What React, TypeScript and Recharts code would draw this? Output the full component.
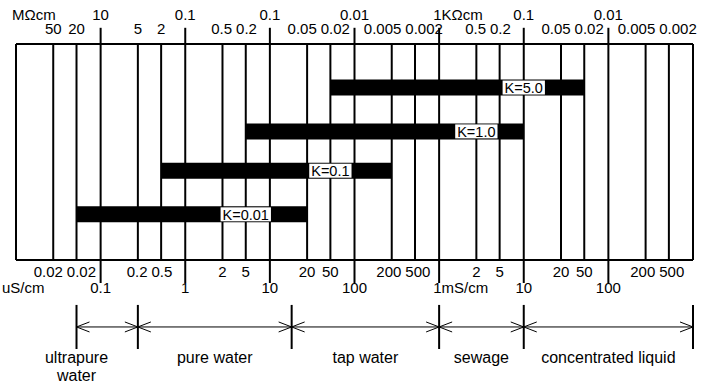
import { ComposedChart, Bar, XAxis, YAxis, ReferenceLine, LabelList } from 'recharts'

const FONT = '"Liberation Sans", Arial, Helvetica, sans-serif'
const WIDTH = 704
const HEIGHT = 386
const BOX_LEFT = 16
const BOX_RIGHT = 693
const AXIS_FONT = 15

// conductivity grid, all values in uS/cm
const GRID_VALUES = [
  0.01, 0.02, 0.05, 0.1, 0.2, 0.5, 1, 2, 5, 10, 20, 50, 100, 200, 500,
  1000, 2000, 5000, 10000, 20000, 50000, 100000, 200000, 500000, 1000000,
]
const DECADE_VALUES = [0.1, 1, 10, 100, 1000, 10000, 100000]
const DOMAIN_FROM = 0.01
const DOMAIN_TO = 1000000

// the chart is a schematic: inside each decade the 2 and 5 lines sit here
const STEP_MANTISSA = [1, 2, 5, 10]
const STEP_OFFSET = [0, 0.44, 0.715, 1]

// top scale (resistivity)
const TOP_UNIT = 'MΩcm'
const TOP_MAJOR_TEXT = ['10', '0.1', '0.1', '0.01', '1KΩcm', '0.1', '0.01']
const MINOR_AT = [
  0.02, 0.05, 0.2, 0.5, 2, 5, 20, 50, 200, 500, 2000, 5000, 20000, 50000, 200000, 500000,
]
const TOP_MINOR_TEXT = [
  '50', '20', '5', '2', '0.5', '0.2', '0.05', '0.02', '0.005', '0.002',
  '0.5', '0.2', '0.05', '0.02', '0.005', '0.002',
]

// bottom scale (conductivity)
const BOTTOM_UNIT = 'uS/cm'
const BOTTOM_MAJOR_TEXT = ['0.1', '1', '10', '100', '1mS/cm', '10', '100']
const BOTTOM_MINOR_TEXT = [
  '0.02', '0.02', '0.2', '0.5', '2', '5', '20', '50', '200', '500',
  '2', '5', '20', '50', '200', '500',
]

// cell constants
const K_LABELS = ['K=5.0', 'K=1.0', 'K=0.1', 'K=0.01']
const K_ROWS = [2, 4.03, 5.85, 7.87]
const K_FROM = [50, 5, 0.5, 0.05]
const K_TO = [50000, 10000, 200, 20]
const K_LABEL_AT = [10000, 2000, 50, 5]

// rows span 0..10 inside the box; the decade ticks and the ranges sit outside it
const TOP_TICK_SPAN = [-0.75, 0]
const RANGE_EDGES = [0.05, 0.2, 15, 1000, 10000, 1000000]
const RANGE_NAMES = [['ultrapure', 'water'], ['pure water'], ['tap water'], ['sewage'], ['concentrated liquid']]
const RANGE_LABEL_AT = [0.05, null, null, null, null]
const RANGE_ROW = 13.1
const RANGE_EDGE_SPAN = [12.08, 14.12]

const pos = (v: number) => {
  const d = Math.floor(Math.log10(v) + 1e-9)
  const m = v / Math.pow(10, d)
  for (let i = 0; i < STEP_MANTISSA.length - 1; i++) {
    const a = STEP_MANTISSA[i]
    const b = STEP_MANTISSA[i + 1]
    if (m >= a - 1e-9 && m <= b + 1e-9) {
      const f = Math.log(m / a) / Math.log(b / a)
      return d + STEP_OFFSET[i] + f * (STEP_OFFSET[i + 1] - STEP_OFFSET[i])
    }
  }
  return d
}

const DOMAIN: [number, number] = [pos(DOMAIN_FROM), pos(DOMAIN_TO)]
const PX_PER_UNIT = (BOX_RIGHT - BOX_LEFT) / (DOMAIN[1] - DOMAIN[0])

const CHAR_W: Record<string, number> = { '.': 0.278, '=': 0.584, K: 0.667 }
const textWidth = (s: string, size: number) =>
  s.split('').reduce((w, c) => w + (CHAR_W[c] ?? 0.556), 0) * size

type TickSpec = {
  v: number
  text: string
  outer: boolean
  major: boolean
  anchor: 'start' | 'middle' | 'end'
  dx: number
}

const buildTicks = (unit: string, unitDx: number, majorText: string[], minorText: string[]) => {
  const specs: TickSpec[] = [
    { v: pos(DOMAIN_FROM), text: unit, outer: true, major: false, anchor: 'start', dx: unitDx },
  ]
  DECADE_VALUES.forEach((at, i) => {
    const text = majorText[i]
    const isUnit = /[a-zA-Z]/.test(text)
    specs.push({ v: pos(at), text, outer: true, major: true, anchor: isUnit ? 'start' : 'middle', dx: isUnit ? -6 : 0 })
  })
  for (let i = 0; i < MINOR_AT.length; i += 2) {
    const a = pos(MINOR_AT[i])
    const b = pos(MINOR_AT[i + 1])
    const need = (textWidth(minorText[i], AXIS_FONT) + textWidth(minorText[i + 1], AXIS_FONT)) / 2 + 4
    const gap = (b - a) * PX_PER_UNIT
    const shift = need > gap ? (need - gap) / 2 : 0
    specs.push({ v: a, text: minorText[i], outer: false, major: false, anchor: 'middle', dx: -shift })
    specs.push({ v: b, text: minorText[i + 1], outer: false, major: false, anchor: 'middle', dx: shift })
  }
  return specs
}

const topTicks = buildTicks(TOP_UNIT, -4, TOP_MAJOR_TEXT, TOP_MINOR_TEXT)
const bottomTicks = buildTicks(BOTTOM_UNIT, -14, BOTTOM_MAJOR_TEXT, BOTTOM_MINOR_TEXT)

const makeTick = (specs: TickSpec[], side: 'top' | 'bottom') => (props: any) => {
  const { x, y, index } = props
  const s = specs[index]
  if (!s) return <g />
  const dir = side === 'top' ? -1 : 1
  const base = side === 'top' ? (s.outer ? 24 : 10.5) : s.outer ? 33 : 17
  return (
    <g>
      {side === 'bottom' && s.major && <line x1={x} x2={x} y1={y} y2={y + 23} stroke="#000" strokeWidth={2} />}
      <text x={x + s.dx} y={y + dir * base} textAnchor={s.anchor} fontSize={AXIS_FONT} fontFamily={FONT} fill="#000">
        {s.text}
      </text>
    </g>
  )
}

const barData = K_LABELS.map((label, i) => ({
  label,
  row: K_ROWS[i],
  range: [pos(K_FROM[i]), pos(K_TO[i])],
}))

const renderKLabel = (props: any) => {
  const { viewBox, index } = props
  const { x, y, width, height } = viewBox
  const from = pos(K_FROM[index])
  const to = pos(K_TO[index])
  const cx = x + (width * (pos(K_LABEL_AT[index]) - from)) / (to - from)
  const cy = y + height / 2
  const text = K_LABELS[index]
  const w = textWidth(text, 14.5) + 4
  return (
    <g>
      <rect x={cx - w / 2} y={cy - 7} width={w} height={14} fill="#fff" />
      <text x={cx} y={cy} dy="0.36em" textAnchor="middle" fontSize={14.5} fontFamily={FONT} fill="#000">
        {text}
      </text>
    </g>
  )
}

const makeArrow = (names: string[], labelX: number | null) => (props: any) => {
  const { x1, y1, x2 } = props
  const lx = labelX ?? (x1 + x2) / 2
  const head = 13
  const half = 5
  return (
    <g>
      <line x1={x1} y1={y1} x2={x2} y2={y1} stroke="#000" strokeWidth={1} />
      <polyline points={`${x1 + head},${y1 - half} ${x1},${y1} ${x1 + head},${y1 + half}`} fill="none" stroke="#000" strokeWidth={1} />
      <polyline points={`${x2 - head},${y1 - half} ${x2},${y1} ${x2 - head},${y1 + half}`} fill="none" stroke="#000" strokeWidth={1} />
      {names.map((n, i) => (
        <text key={n} x={lx} y={y1 + 36 + i * 18} textAnchor="middle" fontSize={16} fontFamily={FONT} fill="#000">
          {n}
        </text>
      ))}
    </g>
  )
}

export default function App() {
  return (
    <div style={{ position: 'absolute', left: 0, top: 0, width: WIDTH, height: HEIGHT, background: '#fff' }}>
      <ComposedChart
        width={WIDTH}
        height={HEIGHT}
        layout="vertical"
        data={barData}
        margin={{ top: 0, right: WIDTH - BOX_RIGHT, bottom: 0, left: BOX_LEFT }}
      >
        <XAxis
          xAxisId="top"
          orientation="top"
          type="number"
          domain={DOMAIN}
          allowDataOverflow
          ticks={topTicks.map((t) => t.v)}
          interval={0}
          height={44}
          tickSize={0}
          tickMargin={0}
          tickLine={false}
          axisLine={{ stroke: '#000', strokeWidth: 2 }}
          tick={makeTick(topTicks, 'top')}
        />
        <XAxis
          xAxisId="bottom"
          orientation="bottom"
          type="number"
          domain={DOMAIN}
          allowDataOverflow
          ticks={bottomTicks.map((t) => t.v)}
          interval={0}
          height={126}
          tickSize={0}
          tickMargin={0}
          tickLine={false}
          axisLine={{ stroke: '#000', strokeWidth: 2 }}
          tick={makeTick(bottomTicks, 'bottom')}
        />
        <YAxis yAxisId="rows" type="number" dataKey="row" domain={[0, 10]} allowDataOverflow hide />
        {GRID_VALUES.map((v) => (
          <ReferenceLine key={v} xAxisId="bottom" yAxisId="rows" x={pos(v)} stroke="#000" strokeWidth={2} />
        ))}
        {DECADE_VALUES.map((v) => (
          <ReferenceLine
            key={`up-${v}`}
            xAxisId="bottom"
            yAxisId="rows"
            ifOverflow="visible"
            segment={[{ x: pos(v), y: TOP_TICK_SPAN[0] }, { x: pos(v), y: TOP_TICK_SPAN[1] }]}
            stroke="#000"
            strokeWidth={2}
          />
        ))}
        {RANGE_EDGES.map((v) => (
          <ReferenceLine
            key={`edge-${v}`}
            xAxisId="bottom"
            yAxisId="rows"
            ifOverflow="visible"
            segment={[{ x: pos(v), y: RANGE_EDGE_SPAN[0] }, { x: pos(v), y: RANGE_EDGE_SPAN[1] }]}
            stroke="#000"
            strokeWidth={2}
          />
        ))}
        {RANGE_NAMES.map((names, i) => {
          const a = pos(RANGE_EDGES[i])
          const b = pos(RANGE_EDGES[i + 1])
          const at = RANGE_LABEL_AT[i]
          const labelX = at === null ? null : BOX_LEFT + (pos(at) - DOMAIN[0]) * PX_PER_UNIT
          return (
            <ReferenceLine
              key={names.join(' ')}
              xAxisId="bottom"
              yAxisId="rows"
              ifOverflow="visible"
              segment={[{ x: a, y: RANGE_ROW }, { x: b, y: RANGE_ROW }]}
              shape={makeArrow(names, labelX)}
            />
          )
        })}
        <Bar
          xAxisId="bottom"
          yAxisId="rows"
          dataKey="range"
          fill="#000"
          barSize={16}
          isAnimationActive={false}
        >
          <LabelList dataKey="label" content={renderKLabel} />
        </Bar>
      </ComposedChart>
    </div>
  )
}
